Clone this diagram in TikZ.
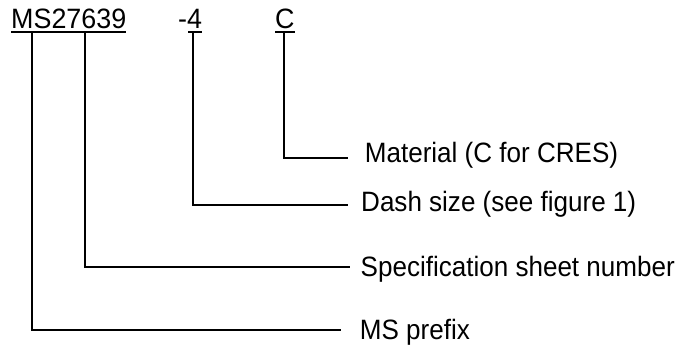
\documentclass[tikz,border=0pt]{standalone}
\usepackage{fontspec}
\setmainfont{Liberation Sans}
\newfontfamily\topfont[FakeStretch=0.96]{Liberation Sans}
\newfontfamily\labfont[FakeStretch=0.93]{Liberation Sans}
\begin{document}
\begin{tikzpicture}[x=1pt,y=-1pt,
  toptext/.style={anchor=base west,inner sep=0pt,font=\topfont\fontsize{28}{32}\selectfont},
  labtext/.style={anchor=base west,inner sep=0pt,font=\labfont\fontsize{28}{32}\selectfont},
  leader/.style={line width=2pt,line join=miter}]
\useasboundingbox (0,0) rectangle (686,346);
% part number
\node[toptext] (ms) at (11,28.3) {MS27639};
\node[toptext] (dash) at (178,28.3) {-4};
\node[toptext] (mat) at (275,28.3) {C};
% underlines
\coordinate (u1a) at (11,32);  \coordinate (u1b) at (126,32);
\coordinate (u2a) at (188,32); \coordinate (u2b) at (202,32);
\coordinate (u3a) at (275,32); \coordinate (u3b) at (295,32);
\draw[leader] (u1a) -- (u1b);
\draw[leader] (u2a) -- (u2b);
\draw[leader] (u3a) -- (u3b);
% labels
\node[labtext] (lmat) at (364.7,162.7) {Material (C for CRES)};
\node[labtext] (ldash) at (361,211.7) {Dash size (see figure 1)};
\node[labtext] (lspec) at (360.5,276) {Specification sheet number};
\node[labtext] (lms) at (359.7,339.6) {MS prefix};
% leader start and end points
\coordinate (sMat) at (283.5,32);  \coordinate (eMat) at (347.7,157.7);
\coordinate (sDash) at (193,32);   \coordinate (eDash) at (348,205);
\coordinate (sSpec) at (85,32);    \coordinate (eSpec) at (350,266.7);
\coordinate (sMS) at (32,32);      \coordinate (eMS) at (340.7,330);
\draw[leader] (sMat) |- (eMat);
\draw[leader] (sDash) |- (eDash);
\draw[leader] (sSpec) |- (eSpec);
\draw[leader] (sMS) |- (eMS);
\end{tikzpicture}
\end{document}
